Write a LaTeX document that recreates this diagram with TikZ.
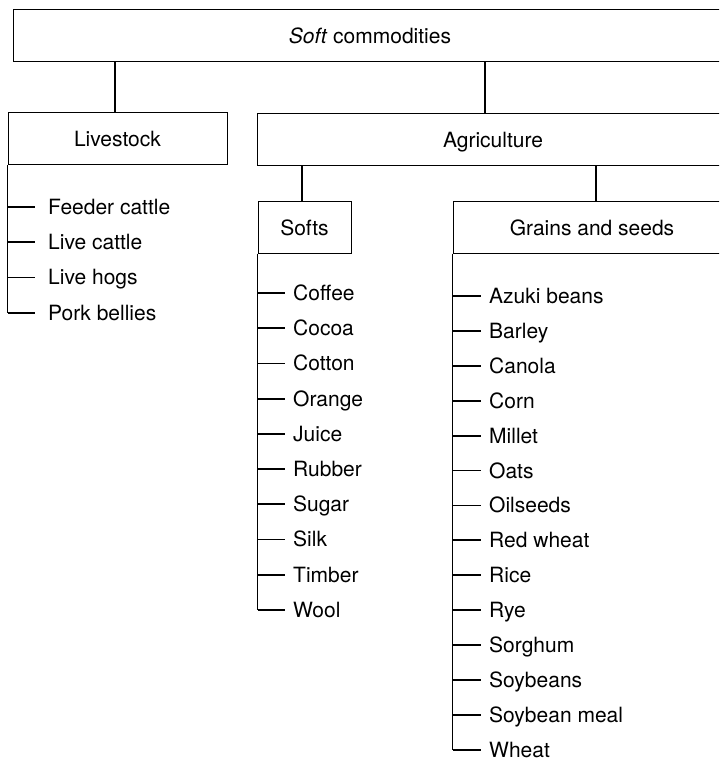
\documentclass[tikz,border=0pt]{standalone}
\usepackage{fontspec}
\setmainfont{TeX Gyre Heros}
\begin{document}
\begin{tikzpicture}[x=1pt, y=-1pt,
    font=\fontsize{21}{25}\selectfont,
    box/.style={draw, line width=1pt, inner sep=0pt, text height=15pt, text depth=0pt},
    item/.style={anchor=west, inner xsep=8pt, inner ysep=0pt, text height=15pt, text depth=0pt},
    branch/.style={line width=1.8pt}]
  \useasboundingbox (0, 0) rectangle (719, 759);
  \clip (0, 0) rectangle (719, 759);

  % the boxes; the wide ones run off the right edge
  \node[box, minimum width=714pt, minimum height=52pt] (top) at (370, 36) {\textit{Soft} commodities};
  \node[box, minimum width=219pt, minimum height=52pt] (live) at (117.5, 139) {Livestock};
  \node[box, minimum width=472pt, minimum height=52pt] (agri) at (493, 140) {Agriculture};
  \node[box, minimum width=93pt, minimum height=51pt] (softs) at (304.5, 227.5) {Softs};
  \node[box, minimum width=278pt, minimum height=51pt] (grains) at (592, 227.5) {Grains and seeds};

  \draw[branch] ([xshift=-2.5pt]live.north) -- ([xshift=-2.5pt]live.north |- top.south);
  \draw[branch] ([xshift=-8pt]agri.north) -- ([xshift=-8pt]agri.north |- top.south);
  \draw[branch] ([xshift=-2.5pt]softs.north) -- ([xshift=-2.5pt]softs.north |- agri.south);
  \draw[branch] ([xshift=4pt]grains.north) -- ([xshift=4pt]grains.north |- agri.south);

  % lists hanging from the left edge of each box
  \foreach \name [count=\i from 0] in {Feeder cattle, Live cattle, Live hogs, Pork bellies} {
    \node[item, inner xsep=13pt] (live\i) at (35, 207 + 35.2*\i) {\name};
    \draw[branch] (live\i.west -| live.south west) -- (live\i.west);
  }
  \draw[branch] (live.south west) -- (live3.west -| live.south west);

  \foreach \name [count=\i from 0] in {Coffee, Cocoa, Cotton, Orange, Juice, Rubber, Sugar, Silk, Timber, Wool} {
    \node[item] (soft\i) at (285, 293 + 35.2*\i) {\name};
    \draw[branch] (soft\i.west -| softs.south west) -- (soft\i.west);
  }
  \draw[branch] (softs.south west) -- (soft9.west -| softs.south west);

  \foreach \name [count=\i from 0] in {Azuki beans, Barley, Canola, Corn, Millet, Oats, Oilseeds,
      Red wheat, Rice, Rye, Sorghum, Soybeans, Soybean meal, Wheat} {
    \node[item] (grain\i) at (481, 296 + 34.9*\i) {\name};
    \draw[branch] (grain\i.west -| grains.south west) -- (grain\i.west);
  }
  \draw[branch] (grains.south west) -- (grain13.west -| grains.south west);
\end{tikzpicture}
\end{document}
